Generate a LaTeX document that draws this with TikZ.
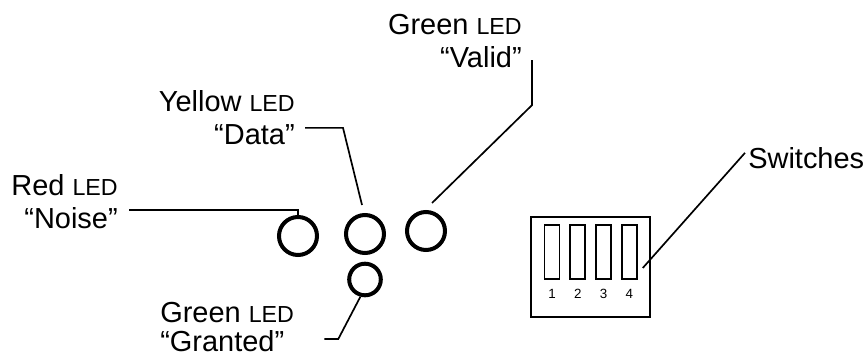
\documentclass[tikz,border=0pt]{standalone}
\usepackage{fontspec}
\setmainfont{Liberation Sans}
\usetikzlibrary{calc}
\newcommand{\ledtxt}{{\fontsize{16.5}{20}\selectfont LED}}
\tikzset{
  lbl/.style={inner sep=0pt, font=\fontsize{20.6}{23.5}\selectfont},
  ledring/.style={circle, draw, line width=0.1cm,
    minimum size=0.95cm, inner sep=0pt},
  ledsmall/.style={ledring, minimum size=0.79cm},
  lead/.style={line width=1.2pt},
  dipbox/.style={rectangle, draw, line width=1.4pt,
    minimum width=2.975cm, minimum height=2.5cm, inner sep=0pt},
  dipbar/.style={rectangle, draw, line width=1.2pt,
    minimum width=0.375cm, minimum height=1.35cm, inner sep=0pt},
  dipnum/.style={inner sep=0pt, font=\fontsize{9.5}{11}\selectfont},
}

\begin{document}
\begin{tikzpicture}[x=0.025cm, y=-0.025cm]
  \useasboundingbox (0,0) rectangle (867,360);

  % LEDs
  \node[ledring] (ledred) at (298,236) {};
  \node[ledring] (leddata) at (365,234) {};
  \node[ledring] (ledvalid) at (426,231) {};
  \node[ledsmall] (ledgrant) at (365,279.5) {};

  % labels
  \node[lbl, align=right, anchor=north east] (redlbl) at (118,174)
    {Red \ledtxt\\“Noise”};
  \node[lbl, align=right, anchor=north east] (datalbl) at (295,90)
    {Yellow \ledtxt\\“Data”};
  \node[lbl, align=right, anchor=north east] (validlbl) at (522,14)
    {Green \ledtxt\\“Valid”};
  \node[lbl, align=left, anchor=north west,
        font=\fontsize{20.6}{20.6}\selectfont] (grantlbl) at (160,302)
    {Green \ledtxt\\“Granted”};
  \node[lbl, anchor=north west] (swlbl) at (748,147) {Switches};

  % DIP switch block
  \node[dipbox] (dip) at (590.5,267) {};
  \foreach \i in {1,...,4} {
    \node[dipbar] (sw\i) at (526.2+25.8*\i,252) {};
    \node[dipnum, anchor=base] (num\i) at (526.2+25.8*\i,298) {\i};
  }

  % leaders
  \draw[lead] ($(redlbl.south east)+(11,-19)$) -| (ledred.north);
  \draw[lead] ($(datalbl.south east)+(10,-17)$) -- ++(38,0)
    -- ($(leddata)+(-3,-29)$);
  \draw[lead] ($(validlbl.south east)+(10,-8)$) -- ++(0,45)
    -- ($(ledvalid)+(6,-28)$);
  \draw[lead] ($(grantlbl.south east)+(30,-13)$) -- ++(14,0)
    -- (ledgrant.255);
  \draw[lead] ($(swlbl.south west)+(-3,-16)$) -- ($(sw4.east)+(5,16)$);
\end{tikzpicture}
\end{document}
